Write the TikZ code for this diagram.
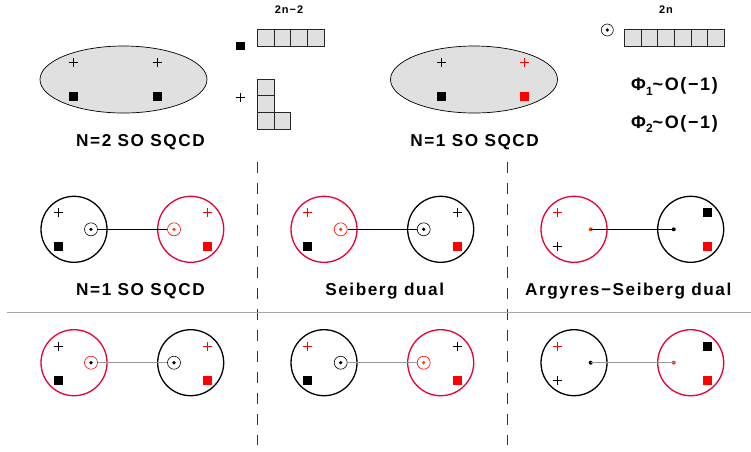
\documentclass[tikz,border=0pt]{standalone}
\usepackage{fontspec}
\newfontfamily\lab[LetterSpace=9]{Liberation Sans}
\usetikzlibrary{shapes.geometric}
\definecolor{crim}{RGB}{232,0,52}
\definecolor{ored}{RGB}{255,60,0}
\definecolor{boxgray}{RGB}{224,224,224}
\newcommand{\subd}[1]{\raisebox{-4.5pt}{\fontsize{12}{14}\selectfont #1}}
\tikzset{
  sq/.style={rectangle, fill=#1, minimum size=9pt, inner sep=0pt},
  ring/.style={circle, draw=#1, line width=1.3pt, minimum size=66pt, inner sep=0pt},
  odot/.style 2 args={circle, draw=#1, line width=0.6pt, minimum size=13pt, inner sep=0pt,
     path picture={\fill[#2] (path picture bounding box.center) circle [radius=1.8pt];}},
  pdot/.style={circle, fill=#1, minimum size=4pt, inner sep=0pt},
  oval/.style={ellipse, draw, fill=boxgray, line width=0.7pt, minimum width=167pt, minimum height=67pt, inner sep=0pt},
  bigtxt/.style={font=\lab\bfseries\fontsize{17.2}{20}\selectfont, anchor=base, inner sep=0pt},
  phitxt/.style={font=\lab\bfseries\fontsize{18}{20}\selectfont, anchor=base, inner sep=0pt},
  smalltxt/.style={font=\lab\bfseries\fontsize{11}{13}\selectfont, anchor=base, inner sep=0pt},
  link/.style={line width=0.9pt, draw=#1},
  yb/.style={draw=black!85, fill=boxgray, line width=0.7pt},
  sep/.style={draw=black!80, line width=0.9pt, dash pattern=on 11pt off 10pt},
  plus/.pic={\draw[line width=0.6pt] (-4.5,0)--(4.5,0) (0,-4.5)--(0,4.5);},
}
\begin{document}
\begin{tikzpicture}[x=1pt,y=-1pt]
\useasboundingbox (0,0) rectangle (751,451);
% ---------- top row ----------
\node[oval] (e1) at (123.5,79.5) {};
\pic[black] at (73,62) {plus};
\pic[black] at (157,62) {plus};
\node[sq=black] (e1a) at (73,96) {};
\node[sq=black] (e1b) at (157,96) {};
\node[bigtxt] (t1) at (140.5,146) {N=2 SO SQCD};

\node[smalltxt] (t2n2) at (289,13.3) {2n−2};
\node[sq=black, minimum size=8.5pt] (ysq) at (240.5,46) {};
\foreach \i in {0,...,3}{\draw[yb] (257.3+16.7*\i,29.3) rectangle ++(16.7,16.7);}
\pic[black] at (240.5,97) {plus};
\foreach \j in {0,1,2}{\draw[yb] (257.3,79+16.77*\j) rectangle ++(16.7,16.77);}
\draw[yb] (274,112.5) rectangle ++(16.7,16.77);

\node[oval] (e2) at (474,79.5) {};
\pic[black] at (441,62) {plus};
\pic[red] at (524,62) {plus};
\node[sq=black] (e2a) at (441,96) {};
\node[sq=red] (e2b) at (524,96) {};
\node[bigtxt] (t2) at (474.6,146) {N=1 SO SQCD};

\node[smalltxt] (t2n) at (666,13.3) {2n};
\node[odot={black}{black}, minimum size=12pt] (od) at (607.3,30) {};
\foreach \i in {0,...,5}{\draw[yb] (624.3+16.7*\i,29.3) rectangle ++(16.7,16.7);}
\node[phitxt] (p1) at (674.5,90.7) {Φ\subd{1}\char`~O(−1)};
\node[phitxt] (p2) at (674.5,128.3) {Φ\subd{2}\char`~O(−1)};

% ---------- separators ----------
\coordinate (s1a) at (257.3,161.7); \coordinate (s1b) at (257.3,445);
\coordinate (s2a) at (507.3,161.7); \coordinate (s2b) at (507.3,445);
\draw[sep] (s1a) -- (s1b);
\draw[sep] (s2a) -- (s2b);
\coordinate (hl) at (7,312.7); \coordinate (hr) at (751,312.7);
\draw[black!35, line width=1.5pt] (hl) -- (hr);

% ---------- middle row ----------
% panel 1
\node[ring=black] (m1l) at (74,229.3) {};
\node[ring=crim] (m1r) at (190.7,229.3) {};
\pic[black] at (58,212.7) {plus};
\node[sq=black] (m1s1) at (58,246.7) {};
\pic[red] at (207,212.7) {plus};
\node[sq=red] (m1s2) at (207,246.7) {};
\node[odot={black}{black}] (m1a) at (91,229.3) {};
\node[odot={red}{ored}] (m1b) at (174,229.3) {};
\draw[link=black] (m1a) -- (m1b);
\node[bigtxt] (m1t) at (140.5,295.7) {N=1 SO SQCD};
% panel 2
\node[ring=crim] (m2l) at (324,229.3) {};
\node[ring=black] (m2r) at (440.7,229.3) {};
\pic[red] at (307.7,212.7) {plus};
\node[sq=black] (m2s1) at (307.7,246.7) {};
\pic[black] at (457,212.7) {plus};
\node[sq=red] (m2s2) at (457,246.7) {};
\node[odot={red}{ored}] (m2a) at (340.7,229.3) {};
\node[odot={black}{black}] (m2b) at (423.7,229.3) {};
\draw[link=black] (m2a) -- (m2b);
\node[bigtxt] (m2t) at (384.7,295.7) {Seiberg dual};
% panel 3
\node[ring=crim] (m3l) at (574,229.3) {};
\node[ring=black] (m3r) at (690.7,229.3) {};
\pic[red] at (557.7,212.7) {plus};
\pic[black] at (557.7,246.7) {plus};
\node[sq=black] (m3s1) at (707,212.7) {};
\node[sq=red] (m3s2) at (707,246.7) {};
\node[pdot=ored] (m3a) at (590.7,229.3) {};
\node[pdot=black] (m3b) at (673.7,229.3) {};
\draw[link=black] (m3a.center) -- (m3b.center);
\node[bigtxt] (m3t) at (628.3,295.7) {Argyres−Seiberg dual};

% ---------- bottom row ----------
% panel 1
\node[ring=crim] (b1l) at (74,362.7) {};
\node[ring=black] (b1r) at (190.7,362.7) {};
\pic[black] at (58,346) {plus};
\node[sq=black] (b1s1) at (58,380) {};
\pic[red] at (207,346) {plus};
\node[sq=red] (b1s2) at (207,380) {};
\node[odot={red}{black}] (b1a) at (91,362.7) {};
\node[odot={black}{black}] (b1b) at (174,362.7) {};
\draw[link=black!40] (b1a) -- (b1b);
% panel 2
\node[ring=black] (b2l) at (324,362.7) {};
\node[ring=crim] (b2r) at (440.7,362.7) {};
\pic[red] at (307.7,346) {plus};
\node[sq=black] (b2s1) at (307.7,380) {};
\pic[black] at (457,346) {plus};
\node[sq=red] (b2s2) at (457,380) {};
\node[odot={black}{black}] (b2a) at (340.7,362.7) {};
\node[odot={red}{ored}] (b2b) at (423.7,362.7) {};
\draw[link=black!40] (b2a) -- (b2b);
% panel 3
\node[ring=black] (b3l) at (574,362.7) {};
\node[ring=crim] (b3r) at (690.7,362.7) {};
\pic[red] at (557.7,346) {plus};
\pic[black] at (557.7,380) {plus};
\node[sq=black] (b3s1) at (707,346) {};
\node[sq=red] (b3s2) at (707,380) {};
\node[pdot=black] (b3a) at (590.7,362.7) {};
\node[pdot=ored] (b3b) at (673.7,362.7) {};
\draw[link=black!40] (b3a.center) -- (b3b.center);
\end{tikzpicture}
\end{document}
